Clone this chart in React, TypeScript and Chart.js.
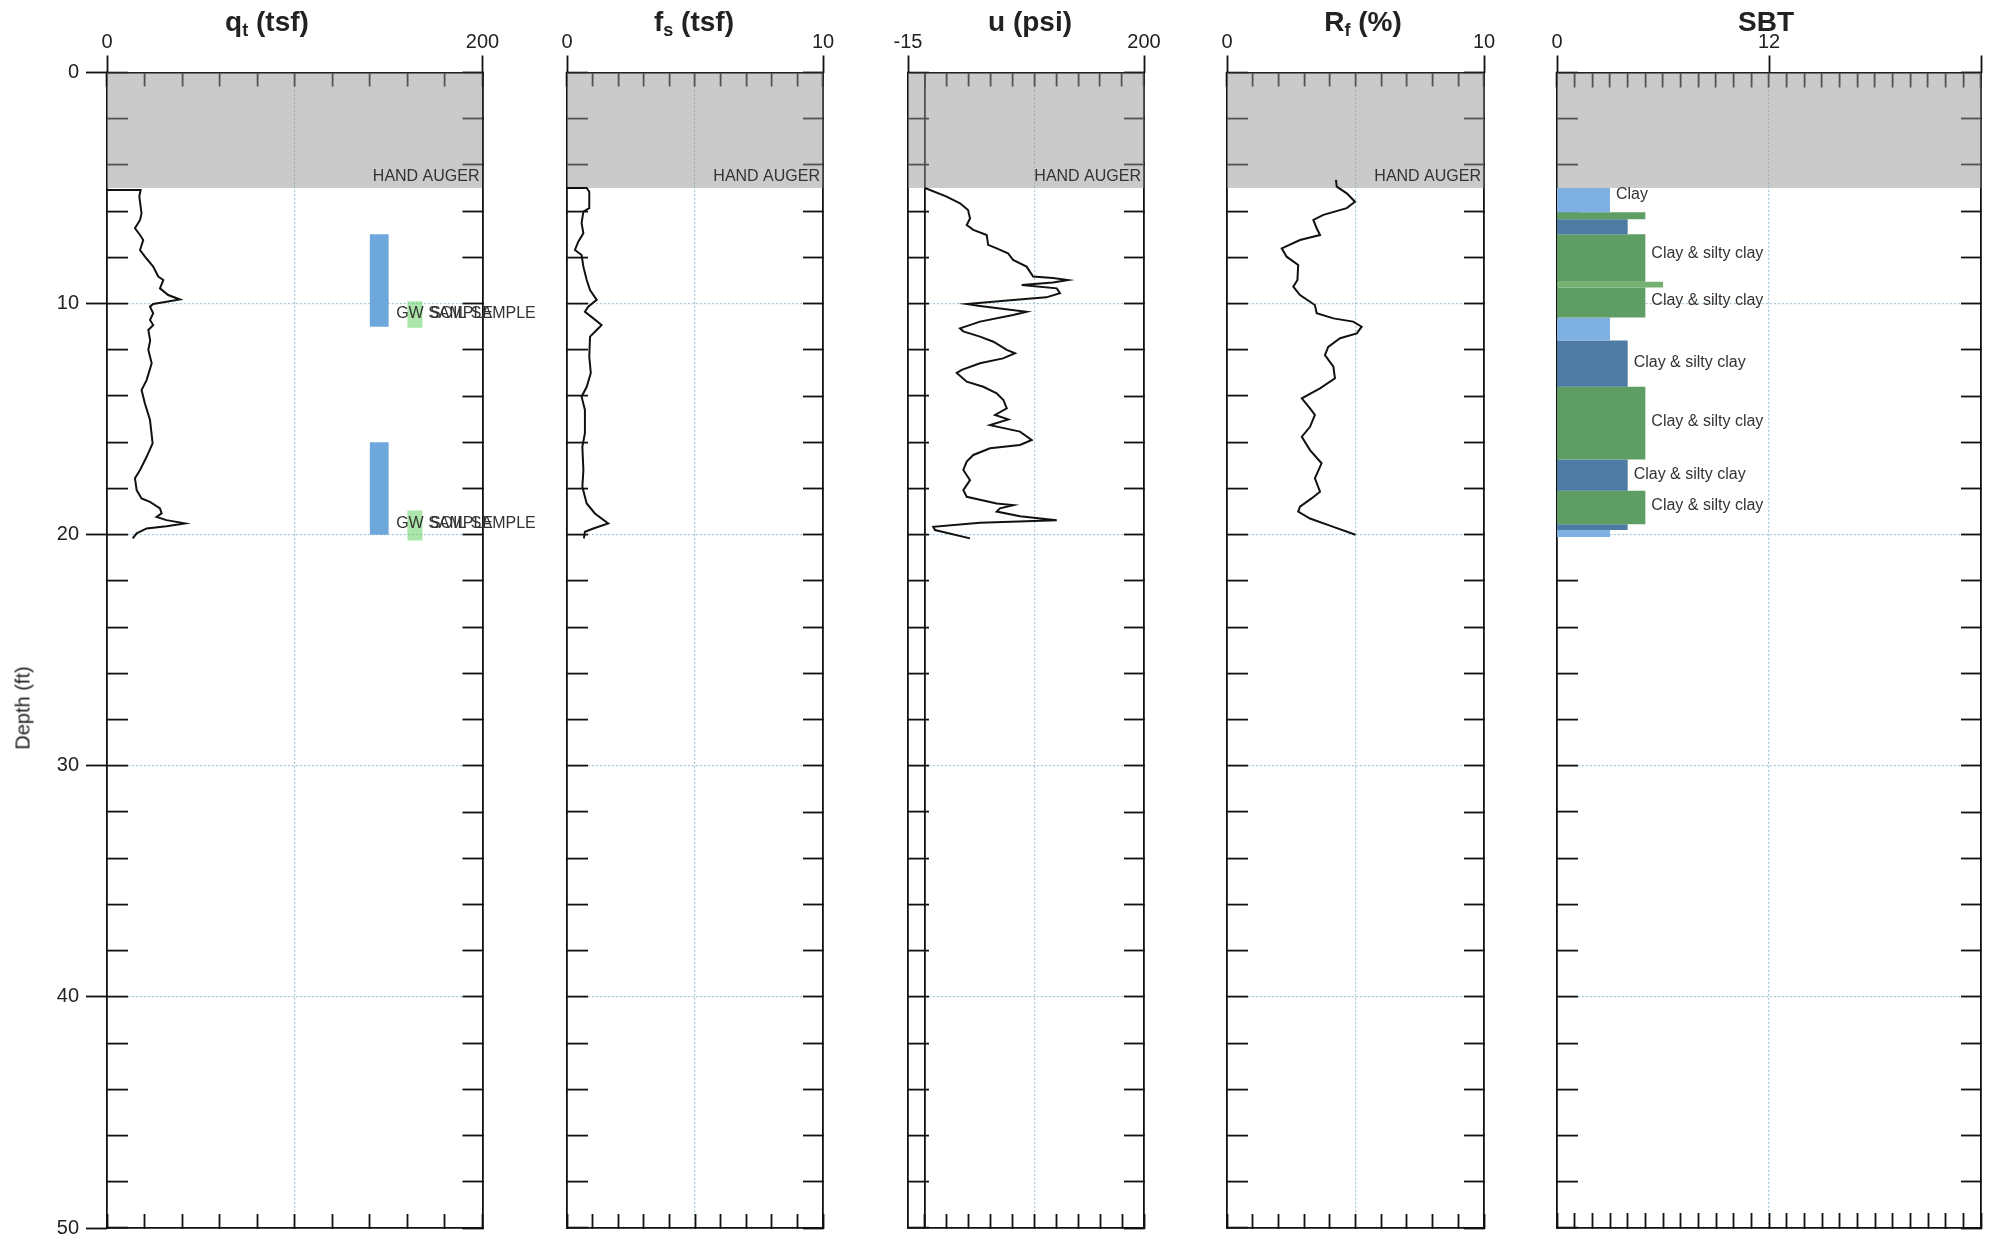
import React, { useEffect, useRef } from 'react';
import { Chart, registerables } from 'chart.js';

Chart.register(...registerables);

const FONT = 'Arial, "Liberation Sans", Helvetica, sans-serif';

// ---------------- depth axis ----------------
const depthMinorTicks = [0, 2, 4, 6, 8, 10, 12, 14, 16, 18, 20, 22, 24, 26, 28, 30, 32, 34, 36, 38, 40, 42, 44, 46, 48, 50];
const depthMajorTicks = [0, 10, 20, 30, 40, 50];
const depthGridLines = [10, 20, 30, 40];
const handAugerTop = 0;
const handAugerBottom = 5;
const handAugerLabelDepth = 4.5;
const handAugerLabel = 'HAND AUGER';

// ---------------- qt (tsf) ----------------
const qtTicks = [0, 20, 40, 60, 80, 100, 120, 140, 160, 180, 200];
const qtRangeTicks = [0, 200];
const qtRangeLabels = ['0', '200'];
const qtGrid = [100];
const qtProfile = [
  [5.08, 0], [5.08, 17.9], [5.37, 17.2], [6.09, 18.4], [6.38, 17.6], [6.74, 14.9], [7.03, 17.6], [7.25, 19.3],
  [7.68, 17.6], [7.97, 20.2], [8.4, 24.6], [8.83, 27.3], [8.98, 30.0], [9.34, 28.2], [9.63, 32.6], [9.82, 38.8],
  [9.92, 31.7], [10.02, 24.6], [10.13, 22.9], [10.42, 24.6], [10.71, 22.9], [10.93, 24.6], [11.14, 22.0],
  [11.6, 23.0], [12.0, 22.0], [12.58, 23.8], [13.31, 21.1], [13.74, 18.4], [14.32, 20.2], [15.04, 22.9],
  [16.05, 24.3], [16.63, 21.1], [17.2, 17.6], [17.56, 14.9], [18.07, 15.8], [18.43, 18.4], [18.58, 22.9],
  [18.86, 28.2], [19.08, 29.1], [19.23, 26.4], [19.37, 31.7], [19.51, 41.5], [19.63, 31.7], [19.73, 21.1],
  [19.94, 15.8], [20.16, 13.7],
];
const sampleXFrom = 140;
const sampleXTo = 150;
const sampleTop = [7, 16];
const sampleBottom = [11, 20];
const gwMarkXFrom = 160;
const gwMarkXTo = 168;
const gwMarkTop = [9.9, 18.95];
const gwMarkBottom = [11.05, 20.25];
const sampleLabelDepth = [10.45, 19.5];
const sampleLabelText = ['GW SAMPLE', 'SOIL SAMPLE'];
const sampleLabelX = [154, 172];

// ---------------- fs (tsf) ----------------
const fsTicks = [0, 1, 2, 3, 4, 5, 6, 7, 8, 9, 10];
const fsRangeTicks = [0, 10];
const fsRangeLabels = ['0', '10'];
const fsGrid = [5];
const fsProfile = [
  [5.0, 0], [5.0, 0.77], [5.16, 0.87], [5.87, 0.87], [6.02, 0.64], [6.52, 0.57], [6.96, 0.64], [7.32, 0.44],
  [7.68, 0.31], [7.9, 0.57], [8.4, 0.64], [8.98, 0.77], [9.41, 0.9], [9.84, 1.16], [10.13, 0.83], [10.35, 0.7],
  [10.64, 1.03], [10.93, 1.35], [11.14, 1.16], [11.43, 0.9], [12.3, 0.87], [13.0, 0.93], [13.6, 0.77],
  [14.03, 0.57], [14.6, 0.7], [15.61, 0.7], [16.2, 0.6], [17.2, 0.64], [17.93, 0.6], [18.65, 0.77],
  [19.08, 1.09], [19.51, 1.61], [19.73, 1.03], [19.87, 0.7], [20.16, 0.66],
];

// ---------------- u (psi) ----------------
const uTicks = [0, 20, 40, 60, 80, 100, 120, 140, 160, 180, 200];
const uRangeTicks = [-15, 200];
const uRangeLabels = ['-15', '200'];
const uGrid = [100];
const uZeroLine = [0];
const uProfile = [
  [5.0, 0.5], [5.37, 20.2], [5.66, 32.4], [5.95, 39.7], [6.31, 41.5], [6.6, 38.5], [6.81, 44.5], [7.03, 56.7],
  [7.46, 58], [7.61, 65.8], [7.82, 76.1], [8.11, 80.7], [8.4, 93], [8.83, 99], [8.89, 117], [8.98, 130.8],
  [9.09, 117], [9.19, 88.6], [9.34, 120.5], [9.55, 123.5], [9.73, 111], [9.84, 80.7], [10.02, 38.8],
  [10.1, 50.6], [10.35, 93], [10.49, 80.7], [10.78, 50.6], [11.07, 32.4], [11.2, 35.3], [11.43, 50.6],
  [11.65, 62.8], [12.0, 75], [12.15, 82.5], [12.37, 71.6], [12.58, 50.6], [12.87, 34], [13.0, 29.4],
  [13.38, 38.5], [13.6, 53.6], [13.88, 65.8], [14.17, 71.9], [14.53, 75], [14.82, 64.3], [15.01, 76.4],
  [15.26, 59.7], [15.54, 87], [15.9, 97.7], [16.12, 87], [16.26, 59.7], [16.55, 44.5], [16.84, 38.5],
  [17.2, 35.4], [17.64, 41.5], [18.07, 35.4], [18.36, 38.5], [18.65, 65.8], [18.72, 81], [18.86, 68.8],
  [19.0, 65.8], [19.2, 87], [19.37, 120.5], [19.48, 50.6], [19.66, 8], [19.8, 9.6], [20.16, 41.5],
];

// ---------------- Rf (%) ----------------
const rfTicks = [0, 1, 2, 3, 4, 5, 6, 7, 8, 9, 10];
const rfRangeTicks = [0, 10];
const rfRangeLabels = ['0', '10'];
const rfGrid = [5];
const rfProfile = [
  [4.65, 4.24], [4.94, 4.27], [5.23, 4.66], [5.59, 4.98], [5.87, 4.66], [6.16, 3.75], [6.38, 3.36], [6.74, 3.49],
  [7.03, 3.62], [7.25, 2.84], [7.61, 2.13], [7.97, 2.32], [8.33, 2.77], [8.98, 2.74], [9.27, 2.58], [9.63, 2.84],
  [10.06, 3.42], [10.42, 3.49], [10.64, 4.14], [10.78, 4.91], [11.0, 5.24], [11.29, 5.05], [11.5, 4.4],
  [11.87, 3.94], [12.23, 3.81], [12.73, 4.14], [13.23, 4.2], [13.67, 3.62], [14.1, 2.91], [14.53, 3.23],
  [14.82, 3.42], [15.33, 3.23], [15.76, 2.91], [16.34, 3.23], [16.91, 3.68], [17.56, 3.42], [18.14, 3.62],
  [18.43, 3.29], [18.79, 2.84], [19.0, 2.77], [19.3, 3.23], [19.66, 4.14], [20.0, 5.0],
];

// ---------------- SBT ----------------
const sbtTicks = [0, 1, 2, 3, 4, 5, 6, 7, 8, 9, 10, 11, 12, 13, 14, 15, 16, 17, 18, 19, 20, 21, 22, 23, 24];
const sbtRangeTicks = [0, 12, 24];
const sbtRangeLabels = ['0', '12', ''];
const sbtGrid = [12];
const sbtLayerTop = [5.0, 6.05, 6.35, 7.0, 9.05, 9.3, 10.6, 11.6, 13.6, 16.75, 18.1, 19.55, 19.8];
const sbtLayerBottom = [6.05, 6.35, 7.0, 9.05, 9.3, 10.6, 11.6, 13.6, 16.75, 18.1, 19.55, 19.8, 20.1];
const sbtLayerZone = [3, 5, 4, 5, 6, 5, 3, 4, 5, 4, 5, 4, 3];
const sbtZoneColor: Record<number, string> = { 3: '#7eb1e2', 4: '#4d7ba3', 5: '#5e9d63', 6: '#73b170' };
const sbtLabelDepth = [5.3, 7.85, 9.87, 12.56, 15.11, 17.42, 18.72];
const sbtLabelZone = [3, 5, 5, 4, 5, 4, 5];
const sbtLabelText = ['Clay', 'Clay & silty clay', 'Clay & silty clay', 'Clay & silty clay', 'Clay & silty clay', 'Clay & silty clay', 'Clay & silty clay'];

// ---------------- layout constants ----------------
const CW = 1997;
const CH = 1300;
const PAGE_H = 1236;
const AREA_TOP = 72.5;
const AREA_BOTTOM = 1228;
const TOP_AXIS_H = 60;
const DEPTH_AXIS_W = 100;
const BLACK = '#111';
const GRID_BLUE = '#a6c6d8';
const NONE = 'rgba(0,0,0,0)';
const SHADE = 'rgba(150,150,150,0.5)';
const AXIS_W = 1.8;

type TextItem = { x: number; depth: number; text: string; dx: number };
type Spec = {
  key: string;
  left: number;
  right: number;
  min: number;
  max: number;
  innerTicks: number[];
  outerTicks: number[];
  outerLabels: string[];
  gridValues: number[];
  solidValues: number[];
  innerTickLen: number;
  depthLabels: boolean;
  handAuger: boolean;
  handAugerText: boolean;
  profile: number[][] | null;
  rects: { x0: number; x1: number; d0: number; d1: number; color: string }[];
  texts: TextItem[];
};

function rectDataset(x0: number, x1: number, d0: number, d1: number, color: string, order: number) {
  return {
    type: 'scatter',
    data: [
      { x: x0, y: d0 },
      { x: x1, y: d0 },
      { x: x1, y: d1 },
      { x: x0, y: d1 },
    ],
    showLine: true,
    fill: 'shape',
    backgroundColor: color,
    borderColor: NONE,
    borderWidth: 0,
    pointRadius: 0,
    order,
    xAxisID: 'x',
    yAxisID: 'y',
  };
}

function buildConfig(s: Spec): any {
  const datasets: any[] = [];
  if (s.handAuger) {
    datasets.push(rectDataset(s.min, s.max, handAugerTop, handAugerBottom, SHADE, 20));
  }
  s.rects.forEach((r) => datasets.push(rectDataset(r.x0, r.x1, r.d0, r.d1, r.color, 10)));
  if (s.profile) {
    datasets.push({
      type: 'scatter',
      data: s.profile.map((p) => ({ x: p[1], y: p[0] })),
      showLine: true,
      fill: false,
      borderColor: BLACK,
      borderWidth: 2,
      pointRadius: 0,
      tension: 0,
      order: 0,
      xAxisID: 'x',
      yAxisID: 'y',
    });
  }

  const tickFont = { family: FONT, size: 20 };
  const scales: any = {
    x: {
      type: 'linear',
      position: 'top',
      min: s.min,
      max: s.max,
      z: 1,
      weight: 0,
      afterBuildTicks: (sc: any) => {
        sc.ticks = s.innerTicks.map((v) => ({ value: v }));
      },
      afterFit: (sc: any) => {
        sc.height = 0;
      },
      ticks: { display: false },
      grid: {
        drawOnChartArea: true,
        drawTicks: true,
        tickLength: -s.innerTickLen,
        tickWidth: AXIS_W,
        tickColor: BLACK,
        color: (c: any) =>
          s.solidValues.includes(c.tick?.value) ? BLACK : s.gridValues.includes(c.tick?.value) ? GRID_BLUE : NONE,
        lineWidth: (c: any) => (s.solidValues.includes(c.tick?.value) ? AXIS_W : 1.2),
      },
      border: {
        display: true,
        color: BLACK,
        width: AXIS_W,
        dash: (c: any) => (s.solidValues.includes(c.tick?.value) ? [] : [2, 2]),
      },
    },
    x2: {
      type: 'linear',
      position: 'top',
      min: s.min,
      max: s.max,
      weight: 1,
      afterBuildTicks: (sc: any) => {
        sc.ticks = s.outerTicks.map((v) => ({ value: v }));
      },
      afterFit: (sc: any) => {
        sc.height = TOP_AXIS_H;
      },
      ticks: {
        display: true,
        autoSkip: false,
        maxRotation: 0,
        minRotation: 0,
        padding: 1,
        color: '#222',
        font: tickFont,
        callback: (v: number) => {
          const i = s.outerTicks.indexOf(v);
          return i >= 0 ? s.outerLabels[i] : '';
        },
      },
      grid: { drawOnChartArea: false, drawTicks: true, tickLength: 17, tickWidth: AXIS_W, tickColor: BLACK, color: BLACK },
      border: { display: false },
    },
    xb: {
      type: 'linear',
      position: 'bottom',
      min: s.min,
      max: s.max,
      z: 1,
      afterBuildTicks: (sc: any) => {
        sc.ticks = s.innerTicks.map((v) => ({ value: v }));
      },
      afterFit: (sc: any) => {
        sc.height = 0;
      },
      ticks: { display: false },
      grid: { drawOnChartArea: false, drawTicks: true, tickLength: -s.innerTickLen, tickWidth: AXIS_W, tickColor: BLACK, color: NONE },
      border: { display: true, color: BLACK, width: AXIS_W },
    },
    y: {
      type: 'linear',
      position: 'left',
      min: 0,
      max: 50,
      reverse: true,
      z: 1,
      weight: 0,
      afterBuildTicks: (sc: any) => {
        sc.ticks = depthMinorTicks.map((v) => ({ value: v }));
      },
      afterFit: (sc: any) => {
        sc.width = 0;
      },
      ticks: { display: false },
      grid: {
        drawOnChartArea: true,
        drawTicks: true,
        tickLength: -21,
        tickWidth: AXIS_W,
        tickColor: BLACK,
        color: (c: any) => (depthGridLines.includes(c.tick?.value) ? GRID_BLUE : NONE),
        lineWidth: 1.2,
      },
      border: { display: true, color: BLACK, width: AXIS_W, dash: [2, 2] },
    },
    yr: {
      type: 'linear',
      position: 'right',
      min: 0,
      max: 50,
      reverse: true,
      z: 1,
      afterBuildTicks: (sc: any) => {
        sc.ticks = depthMinorTicks.map((v) => ({ value: v }));
      },
      afterFit: (sc: any) => {
        sc.width = 0;
      },
      ticks: { display: false },
      grid: { drawOnChartArea: false, drawTicks: true, tickLength: -20, tickWidth: AXIS_W, tickColor: BLACK, color: NONE },
      border: { display: true, color: BLACK, width: AXIS_W },
    },
  };
  if (s.depthLabels) {
    scales.yo = {
      type: 'linear',
      position: 'left',
      min: 0,
      max: 50,
      reverse: true,
      weight: 1,
      afterBuildTicks: (sc: any) => {
        sc.ticks = depthMajorTicks.map((v) => ({ value: v }));
      },
      afterFit: (sc: any) => {
        sc.width = DEPTH_AXIS_W;
      },
      ticks: { display: true, autoSkip: false, padding: 7, color: '#222', font: tickFont },
      grid: { drawOnChartArea: false, drawTicks: true, tickLength: 21, tickWidth: AXIS_W, tickColor: BLACK, color: BLACK },
      border: { display: false },
    };
  }

  const overlay = {
    id: 'overlay_' + s.key,
    afterDraw(chart: any) {
      const ctx = chart.ctx as CanvasRenderingContext2D;
      const xs = chart.scales.x;
      const ys = chart.scales.y;
      ctx.save();
      ctx.fillStyle = '#333';
      ctx.textBaseline = 'middle';
      ctx.font = `16px ${FONT}`;
      if (s.handAugerText) {
        ctx.textAlign = 'right';
        ctx.fillText(handAugerLabel, chart.chartArea.right - 3, ys.getPixelForValue(handAugerLabelDepth));
      }
      ctx.textAlign = 'left';
      s.texts.forEach((t) => {
        ctx.fillText(t.text, xs.getPixelForValue(t.x) + t.dx, ys.getPixelForValue(t.depth));
      });
      ctx.restore();
    },
  };

  return {
    type: 'scatter',
    data: { datasets },
    options: {
      animation: false,
      responsive: false,
      maintainAspectRatio: false,
      events: [],
      layout: {
        padding: {
          left: s.left - (s.depthLabels ? DEPTH_AXIS_W : 0),
          right: CW - s.right,
          top: AREA_TOP - TOP_AXIS_H,
          bottom: CH - AREA_BOTTOM,
        },
      },
      plugins: { legend: { display: false }, tooltip: { enabled: false }, title: { display: false } },
      scales,
    },
    plugins: [overlay],
  };
}

const qtRects = [
  ...sampleTop.map((d, i) => ({ x0: sampleXFrom, x1: sampleXTo, d0: d, d1: sampleBottom[i], color: '#6ea7dc' })),
  ...gwMarkTop.map((d, i) => ({ x0: gwMarkXFrom, x1: gwMarkXTo, d0: d, d1: gwMarkBottom[i], color: 'rgba(100,210,100,0.55)' })),
];
const qtTexts: TextItem[] = [];
sampleLabelDepth.forEach((d) => {
  sampleLabelText.forEach((t, j) => qtTexts.push({ x: sampleLabelX[j], depth: d, text: t, dx: 0 }));
});

const specs: Spec[] = [
  {
    key: 'qt', left: 107, right: 482.5, min: 0, max: 200,
    innerTicks: qtTicks, outerTicks: qtRangeTicks, outerLabels: qtRangeLabels,
    gridValues: qtGrid, solidValues: [], innerTickLen: 14, depthLabels: true, handAuger: true, handAugerText: true,
    profile: qtProfile, rects: qtRects, texts: qtTexts,
  },
  {
    key: 'fs', left: 567, right: 823, min: 0, max: 10,
    innerTicks: fsTicks, outerTicks: fsRangeTicks, outerLabels: fsRangeLabels,
    gridValues: fsGrid, solidValues: [], innerTickLen: 14, depthLabels: false, handAuger: true, handAugerText: true,
    profile: fsProfile, rects: [], texts: [],
  },
  {
    key: 'u', left: 908, right: 1144, min: -15, max: 200,
    innerTicks: uTicks, outerTicks: uRangeTicks, outerLabels: uRangeLabels,
    gridValues: uGrid, solidValues: uZeroLine, innerTickLen: 14, depthLabels: false, handAuger: true, handAugerText: true,
    profile: uProfile, rects: [], texts: [],
  },
  {
    key: 'rf', left: 1227, right: 1484, min: 0, max: 10,
    innerTicks: rfTicks, outerTicks: rfRangeTicks, outerLabels: rfRangeLabels,
    gridValues: rfGrid, solidValues: [], innerTickLen: 14, depthLabels: false, handAuger: true, handAugerText: true,
    profile: rfProfile, rects: [], texts: [],
  },
  {
    key: 'sbt', left: 1557, right: 1981, min: 0, max: 24,
    innerTicks: sbtTicks, outerTicks: sbtRangeTicks, outerLabels: sbtRangeLabels,
    gridValues: sbtGrid, solidValues: [], innerTickLen: 15, depthLabels: false, handAuger: true, handAugerText: false,
    profile: null,
    rects: sbtLayerTop.map((d, i) => ({ x0: 0, x1: sbtLayerZone[i], d0: d, d1: sbtLayerBottom[i], color: sbtZoneColor[sbtLayerZone[i]] })),
    texts: sbtLabelDepth.map((d, i) => ({ x: sbtLabelZone[i], depth: d, text: sbtLabelText[i], dx: 6 })),
  },
];

function Panel({ spec }: { spec: Spec }) {
  const ref = useRef<HTMLCanvasElement>(null);
  useEffect(() => {
    if (!ref.current) return;
    const chart = new Chart(ref.current, buildConfig(spec));
    return () => chart.destroy();
  }, [spec]);
  return (
    <canvas
      ref={ref}
      width={CW}
      height={CH}
      style={{ position: 'absolute', left: 0, top: 0, width: CW, height: CH }}
    />
  );
}

const titleMain = ['q', 'f', 'u', 'R', 'SBT'];
const titleSub = ['t', 's', '', 'f', ''];
const titleUnit = [' (tsf)', ' (tsf)', ' (psi)', ' (%)', ''];
const titleCenter = [267, 694, 1030, 1363, 1766];

export default function App() {
  return (
    <div
      style={{
        position: 'absolute',
        left: 0,
        top: 0,
        width: CW,
        height: PAGE_H,
        overflow: 'hidden',
        background: '#fff',
        fontFamily: FONT,
      }}
    >
      {specs.map((s) => (
        <Panel key={s.key} spec={s} />
      ))}
      {titleMain.map((t, i) => (
        <div
          key={i}
          style={{
            position: 'absolute',
            left: titleCenter[i],
            top: 8,
            transform: 'translateX(-50%)',
            font: `bold 28px ${FONT}`,
            lineHeight: '28px',
            color: '#222',
            whiteSpace: 'nowrap',
          }}
        >
          {t}
          {titleSub[i] ? (
            <span style={{ fontSize: 18, position: 'relative', top: 5 }}>{titleSub[i]}</span>
          ) : null}
          {titleUnit[i]}
        </div>
      ))}
      <div
        style={{
          position: 'absolute',
          left: 23,
          top: 708,
          transform: 'translate(-50%, -50%) rotate(-90deg)',
          font: `20px ${FONT}`,
          color: '#222',
          whiteSpace: 'nowrap',
        }}
      >
        Depth (ft)
      </div>
    </div>
  );
}
